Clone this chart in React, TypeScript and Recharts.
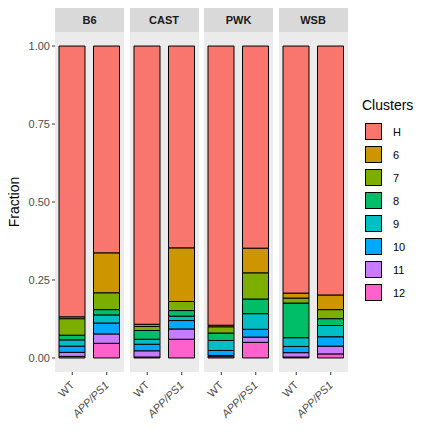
import React from 'react';
import { BarChart, Bar, XAxis, YAxis, CartesianGrid } from 'recharts';

const strains = ['B6', 'CAST', 'PWK', 'WSB'];
const genotypes = ['WT', 'APP/PS1'];
const clusters = ['H', '6', '7', '8', '9', '10', '11', '12'];
const clusterColors = ['#F8766D', '#CD9600', '#7CAE00', '#00BE67', '#00BFC4', '#00A9FF', '#C77CFF', '#FF61CC'];
const yTicks = [0, 0.25, 0.5, 0.75, 1];
const minorTicks = [0.125, 0.375, 0.625, 0.875];

// fractions for clusters 6..12, per strain, [WT, APP/PS1]; H is the rest
const c6 = [[0.006, 0.128], [0.007, 0.172], [0.005, 0.079], [0.016, 0.047]];
const c7 = [[0.053, 0.054], [0.013, 0.029], [0.02, 0.084], [0.016, 0.029]];
const c8 = [[0.015, 0.017], [0.028, 0.018], [0.024, 0.047], [0.111, 0.022]];
const c9 = [[0.02, 0.026], [0.016, 0.014], [0.032, 0.05], [0.028, 0.036]];
const c10 = [[0.02, 0.035], [0.021, 0.027], [0.016, 0.025], [0.02, 0.03]];
const c11 = [[0.013, 0.03], [0.02, 0.033], [0.004, 0.017], [0.014, 0.025]];
const c12 = [[0.005, 0.047], [0.003, 0.06], [0.004, 0.05], [0.003, 0.013]];

const parts = { '6': c6, '7': c7, '8': c8, '9': c9, '10': c10, '11': c11, '12': c12 };

function rows(si: number) {
  return genotypes.map((g, gi) => {
    const r: any = { name: g };
    let sum = 0;
    Object.entries(parts).forEach(([k, arr]) => { r[k] = arr[si][gi]; sum += arr[si][gi]; });
    r.H = 1 - sum;
    return r;
  });
}

const Tick = (props: any) => {
  const { x, y, payload } = props;
  return (
    <g transform={`translate(${x},${y + 6})`}>
      <text transform="rotate(-45)" textAnchor="end" fontSize={11} fill="#4D4D4D"
        fontStyle={payload.value === 'WT' ? 'normal' : 'italic'} dy={4}>{payload.value}</text>
    </g>
  );
};

const panelLeft = [55, 129.5, 204, 278.5];
const panelW = 69;
const font = 'Liberation Sans, Arial, sans-serif';

export default function App() {
  return (
    <div style={{ position: 'relative', width: 432, height: 432, margin: -8, background: '#fff', fontFamily: font, overflow: 'hidden' }}>
      <div style={{ position: 'absolute', left: 14, top: 202, fontSize: 14, transform: 'translate(-50%,-50%) rotate(-90deg)', whiteSpace: 'nowrap' }}>Fraction</div>
      {strains.map((s, si) => {
        const first = si === 0;
        const axisW = first ? 30 : 0;
        return (
          <div key={s} style={{ position: 'absolute', left: panelLeft[si] - axisW, top: 0 }}>
            <div style={{ position: 'absolute', left: axisW, top: 8, width: panelW, height: 24, background: '#D9D9D9',
              fontSize: 11, fontWeight: 'bold', color: '#1A1A1A', display: 'flex', alignItems: 'center', justifyContent: 'center' }}>{s}</div>
            <BarChart width={panelW + axisW} height={432} data={rows(si)}
              margin={{ top: 32, right: 0, bottom: 0, left: 0 }} barSize={26}>
              <rect x={axisW} y={32} width={panelW} height={340} fill="#EBEBEB" />
              <CartesianGrid stroke="#fff" strokeWidth={0.5} horizontalValues={minorTicks} vertical={false} />
              <CartesianGrid stroke="#fff" strokeWidth={1.1} horizontalValues={yTicks} />
              <XAxis dataKey="name" tick={<Tick />} height={60} axisLine={false}
                tickLine={{ stroke: '#333' }} tickSize={3} interval={0} />
              <YAxis hide={!first} width={axisW} domain={[-0.045, 1.045]} ticks={yTicks} allowDataOverflow
                tickFormatter={(v) => v.toFixed(2)} tick={{ fill: '#4D4D4D', fontSize: 11 }}
                axisLine={false} tickLine={{ stroke: '#333' }} tickSize={3} />
              {clusters.slice().reverse().map((c) => (
                <Bar key={c} dataKey={c} stackId="a" fill={clusterColors[clusters.indexOf(c)]}
                  stroke="#000" strokeWidth={1} isAnimationActive={false} />
              ))}
            </BarChart>
          </div>
        );
      })}
      <div style={{ position: 'absolute', left: 362, top: 97, fontSize: 14 }}>Clusters</div>
      {clusters.map((c, i) => (
        <div key={c} style={{ position: 'absolute', left: 362, top: 120 + i * 23, display: 'flex', alignItems: 'center' }}>
          <div style={{ width: 17, height: 17, background: clusterColors[i], border: '1px solid #000', boxSizing: 'border-box', margin: 3 }} />
          <span style={{ fontSize: 11, marginLeft: 8 }}>{c}</span>
        </div>
      ))}
    </div>
  );
}
